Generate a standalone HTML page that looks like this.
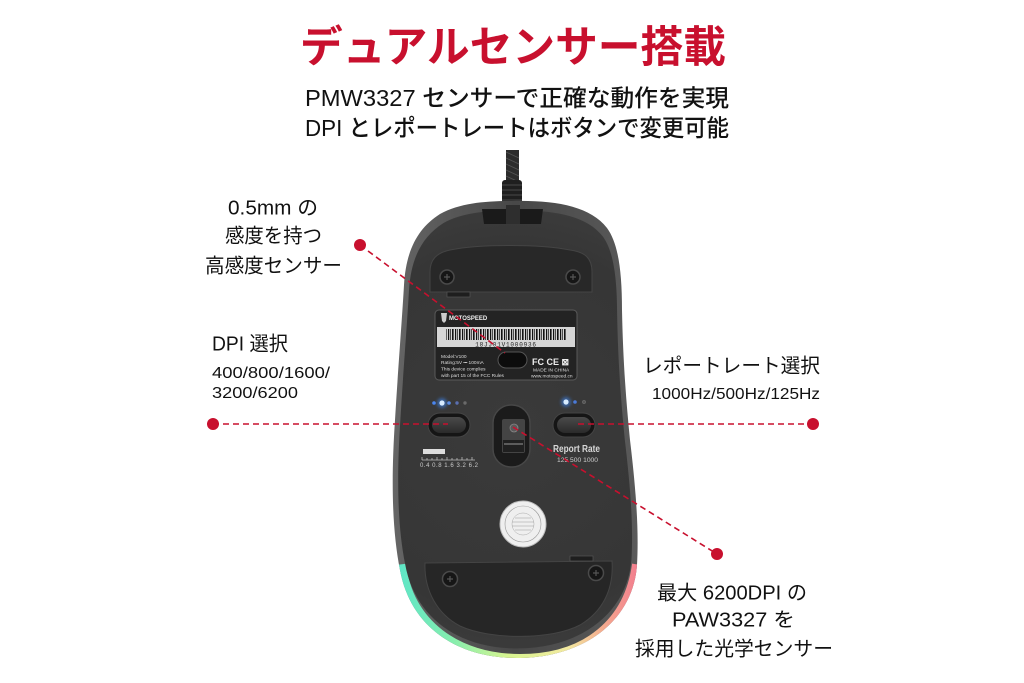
<!DOCTYPE html>
<html><head><meta charset="utf-8"><style>
html,body{margin:0;padding:0;background:#fff;}
body{width:1024px;height:683px;overflow:hidden;}
svg{display:block;}
.jp{font-family:"Liberation Sans","Noto Sans CJK JP",sans-serif;}
</style></head><body>
<svg width="1024" height="683" viewBox="0 0 1024 683" xmlns="http://www.w3.org/2000/svg">
<defs>
  <linearGradient id="rgb" x1="400" y1="0" x2="640" y2="0" gradientUnits="userSpaceOnUse">
    <stop offset="0" stop-color="#5fe6c6"/>
    <stop offset="0.22" stop-color="#86eeae"/>
    <stop offset="0.45" stop-color="#d8f590"/>
    <stop offset="0.7" stop-color="#f3e9a0"/>
    <stop offset="0.85" stop-color="#f4a98e"/>
    <stop offset="1" stop-color="#f27a8e"/>
  </linearGradient>
  <linearGradient id="rim" x1="390" y1="0" x2="640" y2="0" gradientUnits="userSpaceOnUse">
    <stop offset="0" stop-color="#666"/>
    <stop offset="0.5" stop-color="#484848"/>
    <stop offset="1" stop-color="#5a5a5a"/>
  </linearGradient>
  <radialGradient id="bodyg" cx="512" cy="430" r="240" gradientUnits="userSpaceOnUse">
    <stop offset="0" stop-color="#3a3a3a"/>
    <stop offset="0.8" stop-color="#363636"/>
    <stop offset="1" stop-color="#3c3c3c"/>
  </radialGradient>
  <linearGradient id="btn" x1="0" y1="0" x2="0" y2="1">
    <stop offset="0" stop-color="#4a4a4a"/>
    <stop offset="1" stop-color="#2a2a2a"/>
  </linearGradient>
  <pattern id="bars" x="0" y="0" width="7" height="20" patternUnits="userSpaceOnUse">
    <rect x="0" y="0" width="1.2" height="20" fill="#111"/>
    <rect x="2.2" y="0" width="0.7" height="20" fill="#111"/>
    <rect x="4" y="0" width="1.6" height="20" fill="#111"/>
  </pattern>
  <clipPath id="mc"><path d="M 512 201 C 555 200, 590 206, 607 228 C 618 243, 622 270, 622 310 C 623 360, 626 400, 630 440 C 636 490, 639 530, 637 565 C 633 620, 585 657, 520 658 C 455 659, 410 625, 400 570 C 392 530, 391 480, 395 420 C 398 370, 402 320, 404 285 C 406 250, 418 228, 440 214 C 460 203, 485 201, 512 201 Z"/></clipPath>
  <filter id="glow" x="-2" y="-2" width="5" height="5"><feGaussianBlur stdDeviation="1.6"/></filter>
</defs>

<!-- Cable -->
<rect x="506" y="150" width="13" height="70" fill="#2c2c2c"/>
<path d="M506 152 l13 6 M506 158 l13 6 M506 164 l13 6 M506 170 l13 6 M506 176 l13 6" stroke="#555" stroke-width="0.8"/>
<rect x="502" y="180" width="20" height="26" rx="3" fill="#1f1f1f"/>
<path d="M502 185 h20 M502 190 h20 M502 195 h20 M502 200 h20" stroke="#4a4a4a" stroke-width="1"/>

<!-- Mouse body -->
<path d="M 512 201 C 555 200, 590 206, 607 228 C 618 243, 622 270, 622 310 C 623 360, 626 400, 630 440 C 636 490, 639 530, 637 565 C 633 620, 585 657, 520 658 C 455 659, 410 625, 400 570 C 392 530, 391 480, 395 420 C 398 370, 402 320, 404 285 C 406 250, 418 228, 440 214 C 460 203, 485 201, 512 201 Z" fill="url(#rim)"/>
<g clip-path="url(#mc)">
  <path d="M 396 565 C 404 628, 455 664, 520 664 C 590 664, 634 625, 642 565" stroke="url(#rgb)" stroke-width="20" fill="none"/>
</g>
<path transform="translate(514 430) scale(0.955 0.958) translate(-514 -430)" d="M 512 201 C 555 200, 590 206, 607 228 C 618 243, 622 270, 622 310 C 623 360, 626 400, 630 440 C 636 490, 639 530, 637 565 C 633 620, 585 657, 520 658 C 455 659, 410 625, 400 570 C 392 530, 391 480, 395 420 C 398 370, 402 320, 404 285 C 406 250, 418 228, 440 214 C 460 203, 485 201, 512 201 Z" fill="url(#bodyg)"/>

<!-- top cutout -->
<path d="M482 209 L543 209 L541 224 L484 224 Z" fill="#1a1a1a"/>
<rect x="506" y="205" width="14" height="19" fill="#2e2e2e"/>

<!-- top plate -->
<path d="M430 292 L592 292 L592 272 C 592 258, 585 252, 570 250 C 540 244, 480 244, 450 250 C 436 253, 430 260, 430 272 Z" fill="#282828" stroke="#444" stroke-width="1"/>
<rect x="447" y="292" width="23" height="5" fill="#1e1e1e" stroke="#555" stroke-width="0.7"/>
<circle cx="447" cy="277" r="7" fill="#161616" stroke="#4a4a4a" stroke-width="1.5"/>
<path d="M444 277 h6 M447 274 v6" stroke="#555" stroke-width="1.2"/>
<circle cx="573" cy="277" r="7" fill="#161616" stroke="#4a4a4a" stroke-width="1.5"/>
<path d="M570 277 h6 M573 274 v6" stroke="#555" stroke-width="1.2"/>

<!-- label -->
<rect x="435" y="310" width="142" height="70" rx="4" fill="#232323" stroke="#5a5a5a" stroke-width="1"/>
<path d="M441 313 l6 0 l-1 8 l-2 2 l-2 -2 Z" fill="#ccc"/>
<text x="449" y="320" font-family="Liberation Sans, sans-serif" font-size="6" font-weight="bold" fill="#eee">MOTOSPEED</text>
<rect x="437" y="327" width="138" height="20" fill="#d6d6d6"/>
<rect x="446" y="329" width="120" height="11" fill="url(#bars)"/>
<text x="506" y="346.5" text-anchor="middle" font-family="Liberation Mono, monospace" font-size="6" fill="#222" letter-spacing="0.8">18JJ01V1000936</text>
<rect x="498" y="352" width="29" height="16" rx="8" fill="#0c0c0c" stroke="#555" stroke-width="1"/>
<g font-family="Liberation Sans, sans-serif" font-size="4.8" fill="#ddd">
<text x="441" y="358">Model:V100</text>
<text x="441" y="364">Rating:5V ⎓ 100mA</text>
<text x="441" y="370.5">This device complies</text>
<text x="441" y="377">with part 15 of the FCC Rules</text>
<text x="533" y="371.5">MADE IN CHINA</text>
<text x="531" y="377.5">www.motospeed.cn</text>
</g>
<text x="532" y="365" font-family="Liberation Sans, sans-serif" font-size="9" font-weight="bold" fill="#eee">FC CE ⊠</text>

<!-- LEDs -->
<circle cx="442" cy="403" r="5" fill="#3d8cff" opacity="0.55" filter="url(#glow)"/>
<circle cx="566" cy="402" r="5" fill="#3d8cff" opacity="0.55" filter="url(#glow)"/>
<circle cx="434" cy="403" r="1.8" fill="#4a86f0"/>
<circle cx="442" cy="403" r="2.6" fill="#d8ecff"/>
<circle cx="449" cy="403" r="1.8" fill="#5a8ee8"/>
<circle cx="457" cy="403" r="1.7" fill="#5a6fb0"/>
<circle cx="465" cy="403" r="1.7" fill="#6a6a6a"/>
<circle cx="566" cy="402" r="2.6" fill="#d8ecff"/>
<circle cx="575" cy="402" r="1.8" fill="#4a7ad8"/>
<circle cx="584" cy="402" r="1.7" fill="#555" stroke="#777" stroke-width="0.5"/>

<!-- buttons -->
<rect x="428" y="413" width="42" height="24" rx="12" fill="#151515" stroke="#444" stroke-width="1"/>
<rect x="432" y="417" width="34" height="16" rx="8" fill="url(#btn)"/>
<rect x="553" y="413" width="42" height="24" rx="12" fill="#151515" stroke="#444" stroke-width="1"/>
<rect x="557" y="417" width="34" height="16" rx="8" fill="url(#btn)"/>

<!-- sensor window -->
<rect x="493" y="405" width="37" height="62" rx="18" fill="#1b1b1b" stroke="#474747" stroke-width="1.5"/>
<rect x="502" y="419" width="23" height="34" rx="2" fill="#444"/>
<circle cx="514" cy="428" r="4" fill="#5a5a5a" stroke="#888" stroke-width="0.8"/>
<rect x="503" y="440" width="21" height="12" fill="#202020"/>
<path d="M504 444 h19" stroke="#999" stroke-width="1"/>

<!-- report rate / dpi text -->
<text x="553" y="452" font-family="Liberation Sans, sans-serif" font-size="10" font-weight="bold" fill="#d8d8d8" textLength="47" lengthAdjust="spacingAndGlyphs">Report Rate</text>
<text x="557" y="462" font-family="Liberation Sans, sans-serif" font-size="6" fill="#ccc" textLength="41" lengthAdjust="spacingAndGlyphs">125  500  1000</text>
<rect x="423" y="449" width="22" height="5" fill="#ddd"/>
<path d="M422 460 h53 M422 457 v3 M427 458 v2 M432 458 v2 M437 457 v3 M442 458 v2 M447 457 v3 M452 458 v2 M457 458 v2 M462 457 v3 M467 458 v2 M472 457 v3" stroke="#bbb" stroke-width="0.8"/>
<text x="420" y="467" font-family="Liberation Sans, sans-serif" font-size="6" fill="#ccc" textLength="58" lengthAdjust="spacing">0.4 0.8 1.6 3.2 6.2</text>

<!-- sticker -->
<circle cx="523" cy="524" r="23" fill="#efefef" stroke="#bbb" stroke-width="1"/>
<circle cx="523" cy="524" r="18" fill="none" stroke="#999" stroke-width="0.6"/>
<circle cx="523" cy="524" r="11" fill="none" stroke="#aaa" stroke-width="0.5"/>
<path d="M512 522 h22 M512 526 h22 M515 518 h16 M515 530 h16" stroke="#999" stroke-width="0.6"/>

<!-- bottom plate -->
<path d="M425 563 L612 561 C 614 590, 602 612, 580 625 C 552 640, 490 640, 460 626 C 437 614, 424 590, 425 563 Z" fill="#262626" stroke="#444" stroke-width="1"/>
<rect x="570" y="556" width="23" height="5" fill="#1e1e1e" stroke="#555" stroke-width="0.7"/>
<circle cx="450" cy="579" r="7.5" fill="#161616" stroke="#4a4a4a" stroke-width="1.5"/>
<path d="M447 579 h6 M450 576 v6" stroke="#555" stroke-width="1.2"/>
<circle cx="596" cy="573" r="7.5" fill="#161616" stroke="#4a4a4a" stroke-width="1.5"/>
<path d="M593 573 h6 M596 570 v6" stroke="#555" stroke-width="1.2"/>

<!-- dashed connectors -->
<g stroke="#c8102e" stroke-width="1.6" stroke-dasharray="6 4" fill="none">
  <line x1="360" y1="245" x2="505" y2="353"/>
  <line x1="213" y1="424" x2="448" y2="424"/>
  <line x1="578" y1="424" x2="813" y2="424"/>
  <line x1="513" y1="427" x2="717" y2="554"/>
</g>
<g fill="#c8102e">
  <circle cx="360" cy="245" r="6"/>
  <circle cx="213" cy="424" r="6"/>
  <circle cx="813" cy="424" r="6"/>
  <circle cx="717" cy="554" r="6"/>
</g>

<!-- Headline text -->
<g class="jp">
<text x="300" y="62" font-size="43" font-weight="bold" fill="#c8102e" textLength="426" lengthAdjust="spacingAndGlyphs">デュアルセンサー搭載</text>
<text x="305" y="106" font-size="23.5" font-weight="500" fill="#111" textLength="424" lengthAdjust="spacingAndGlyphs">PMW3327 センサーで正確な動作を実現</text>
<text x="305" y="136" font-size="23.5" font-weight="500" fill="#111" textLength="424" lengthAdjust="spacingAndGlyphs">DPI とレポートレートはボタンで変更可能</text>

<g font-size="20" fill="#111">
<text x="228" y="214.5" textLength="90" lengthAdjust="spacingAndGlyphs">0.5mm の</text>
<text x="225" y="242.5" textLength="97" lengthAdjust="spacingAndGlyphs">感度を持つ</text>
<text x="205" y="272.5" textLength="137" lengthAdjust="spacingAndGlyphs">高感度センサー</text>
<text x="212" y="350.5" textLength="76" lengthAdjust="spacingAndGlyphs">DPI 選択</text>
<text x="643" y="372.5" textLength="177" lengthAdjust="spacingAndGlyphs">レポートレート選択</text>
<text x="657" y="599.5" textLength="150" lengthAdjust="spacingAndGlyphs">最大 6200DPI の</text>
<text x="672" y="626.5" textLength="123" lengthAdjust="spacingAndGlyphs">PAW3327 を</text>
<text x="635" y="655.5" textLength="198" lengthAdjust="spacingAndGlyphs">採用した光学センサー</text>
</g>
<g font-size="16" fill="#111">
<text x="212" y="378" textLength="118" lengthAdjust="spacingAndGlyphs">400/800/1600/</text>
<text x="212" y="398" textLength="86" lengthAdjust="spacingAndGlyphs">3200/6200</text>
<text x="652" y="399" textLength="168" lengthAdjust="spacingAndGlyphs">1000Hz/500Hz/125Hz</text>
</g>
</g>
</svg>
</body></html>
